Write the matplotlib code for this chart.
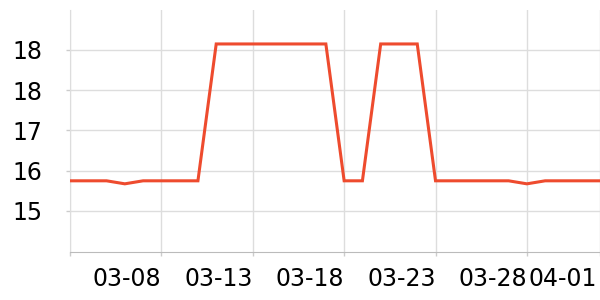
import matplotlib
matplotlib.use("Agg")
import matplotlib.pyplot as plt
import matplotlib.transforms as mtransforms
import datetime as dt

# data
start = dt.date(2024, 3, 3)
dates = [start + dt.timedelta(days=i) for i in range(30)]
values = [15.80, 15.80, 15.80, 15.74, 15.80, 15.80, 15.80, 15.80,
          18.52, 18.52, 18.52, 18.52, 18.52, 18.52, 18.52,
          15.80, 15.80,
          18.52, 18.52, 18.52,
          15.80, 15.80, 15.80, 15.80, 15.80, 15.74, 15.80, 15.80, 15.80, 15.80]
ytick_values = [15.2, 16.0, 16.8, 17.6, 18.4]
ytick_labels = ["15", "16", "17", "18", "18"]
xtick_dates = [dt.date(2024, 3, 3), dt.date(2024, 3, 8), dt.date(2024, 3, 13),
               dt.date(2024, 3, 18), dt.date(2024, 3, 23), dt.date(2024, 3, 28),
               dt.date(2024, 4, 1)]
xtick_labels = ["", "03-08", "03-13", "03-18", "03-23", "03-28", "04-01"]

fig = plt.figure(figsize=(6, 3), dpi=100)
ax = fig.add_axes([70/600, 1-252/300, 530/600, 242/300])

ax.plot(dates, values, color="#ee4b2e", linewidth=2.2, solid_joinstyle="miter", zorder=3)

ax.set_xlim(dates[0], dates[-1])
ax.set_ylim(14.385, 19.195)
ax.set_yticks(ytick_values)
ax.set_yticklabels(ytick_labels)
ax.set_xticks(xtick_dates)
ax.set_xticklabels(xtick_labels, ha="right")

ax.grid(True, color="#dddddd", linewidth=1)
ax.set_axisbelow(True)
for s in ["top", "right"]:
    ax.spines[s].set_visible(False)
ax.spines["left"].set_color("#dddddd")
ax.spines["bottom"].set_color("#bbbbbb")
ax.tick_params(axis="both", colors="#cccccc", labelcolor="black", labelsize=17, length=3, width=1)
ax.tick_params(axis="x", pad=8)
ax.tick_params(axis="y", pad=17)

last = ax.get_xticklabels()[-1]
last.set_transform(last.get_transform() + mtransforms.ScaledTranslation(-3/100, 0, fig.dpi_scale_trans))

fig.savefig("out.png", dpi=100)
